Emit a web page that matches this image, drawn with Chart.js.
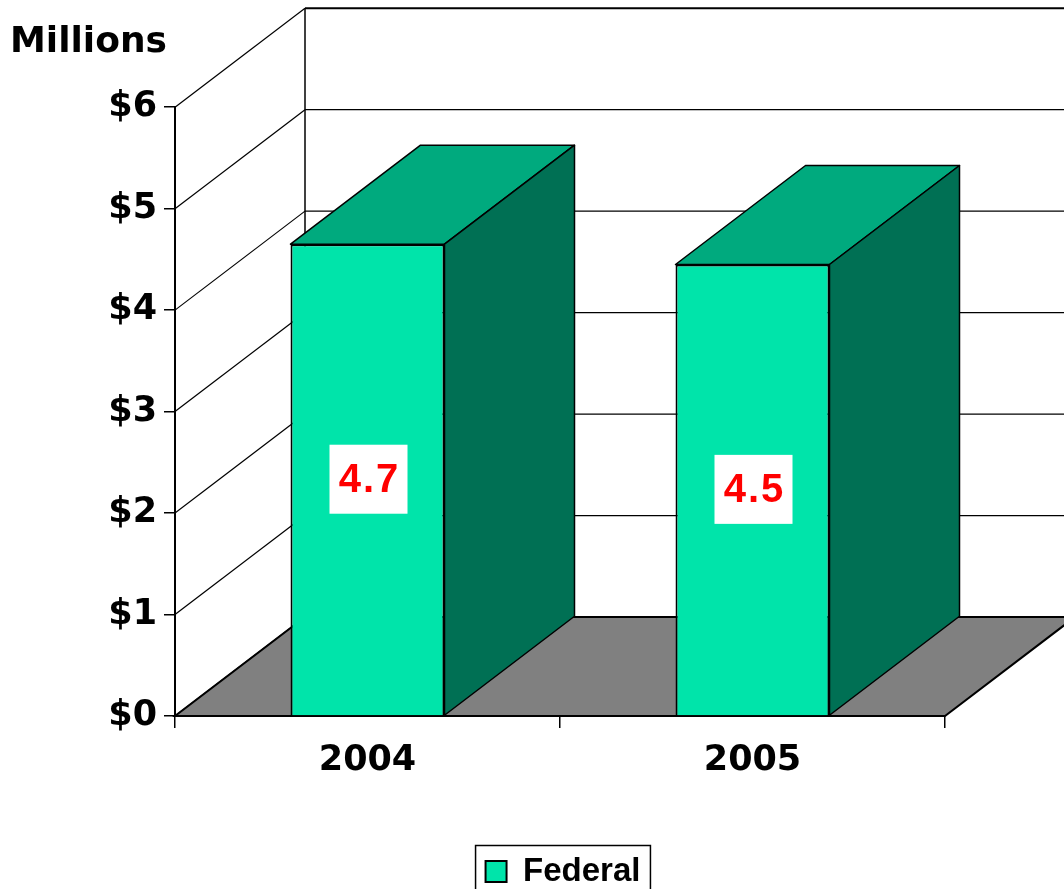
<!DOCTYPE html>
<html lang="en">
<head>
  <meta charset="UTF-8">
  <title>Federal funding</title>
  <script src="https://cdn.jsdelivr.net/npm/chart.js"></script>
  <style>
    html, body { margin: 0; padding: 0; background: #fff; }
    #wrap { width: 1064px; height: 889px; }
  </style>
</head>
<body>
  <div id="wrap"><canvas id="fundChart" width="1064" height="889"></canvas></div>

  <script>
    // data
    const years = ['2004', '2005'];
    const federal = [4.65, 4.45];
    const federalLabels = ['4.7', '4.5'];
    const yTicks = [0, 1, 2, 3, 4, 5, 6];

    // depth of the fake 3d box
    const DX = 130, DY = -99;
    const FRONT = '#00E4AA', TOP = '#00AA7E', SIDE = '#007054';

    const box3d = {
      id: 'box3d',
      afterUpdate(chart) {
        // legend sits under the plot, not under the whole canvas
        const lg = chart.legend, area = chart.chartArea;
        const dx = (area.left + area.right) / 2 + 3 - (lg.left + lg.right) / 2;
        const dy = 9;
        lg.left += dx; lg.right += dx;
        lg.top += dy; lg.bottom += dy;
        lg.legendHitBoxes.forEach(hb => { hb.left += dx; hb.top += dy; });
      },
      beforeDatasetsDraw(chart) {
        const c = chart.ctx, y = chart.scales.y, area = chart.chartArea;
        const x0 = area.left, x1 = area.right;
        const yb = y.getPixelForValue(0), yt = y.getPixelForValue(6);
        c.save();
        // back wall + side wall lines
        yTicks.forEach(v => {
          const yy = y.getPixelForValue(v);
          c.strokeStyle = '#000';
          c.lineWidth = v === 6 ? 2 : 1.3;
          c.beginPath();
          c.moveTo(x0 + DX, yy + DY);
          c.lineTo(x1 + DX, yy + DY);
          c.stroke();
          c.lineWidth = 1.2;
          c.beginPath();
          c.moveTo(x0, yy);
          c.lineTo(x0 + DX, yy + DY);
          c.stroke();
        });
        c.lineWidth = 1.5;
        c.beginPath();
        c.moveTo(x0 + DX, yt + DY);
        c.lineTo(x0 + DX, yb + DY);
        c.stroke();
        // floor
        c.fillStyle = '#808080';
        c.lineWidth = 2;
        c.beginPath();
        c.moveTo(x0, yb);
        c.lineTo(x1, yb);
        c.lineTo(x1 + DX, yb + DY);
        c.lineTo(x0 + DX, yb + DY);
        c.closePath();
        c.fill();
        c.stroke();
        c.restore();
      },
      afterDatasetsDraw(chart) {
        const c = chart.ctx;
        const meta = chart.getDatasetMeta(0);
        c.save();
        c.strokeStyle = '#000';
        c.lineWidth = 1.5;
        c.lineJoin = 'round';
        meta.data.forEach((bar, i) => {
          const l = bar.x - bar.width / 2, r = bar.x + bar.width / 2;
          // top
          c.fillStyle = TOP;
          c.beginPath();
          c.moveTo(l, bar.y);
          c.lineTo(l + DX, bar.y + DY);
          c.lineTo(r + DX, bar.y + DY);
          c.lineTo(r, bar.y);
          c.closePath();
          c.fill();
          c.stroke();
          // side
          c.fillStyle = SIDE;
          c.beginPath();
          c.moveTo(r, bar.y);
          c.lineTo(r + DX, bar.y + DY);
          c.lineTo(r + DX, bar.base + DY);
          c.lineTo(r, bar.base);
          c.closePath();
          c.fill();
          c.stroke();
          // value label
          const cy = (bar.y + bar.base) / 2;
          c.fillStyle = '#fff';
          c.fillRect(bar.x - 38, cy - 35, 78, 69);
          c.fillStyle = '#ff0000';
          c.font = 'bold 40px "Liberation Sans", Arial, sans-serif';
          c.letterSpacing = '2px';
          c.textAlign = 'center';
          c.textBaseline = 'middle';
          c.fillText(federalLabels[i], bar.x + 2, cy + 1);
          c.letterSpacing = '0px';
        });
        c.restore();
      },
      afterDraw(chart) {
        // box round the legend
        const hb = chart.legend.legendHitBoxes[0];
        if (!hb) return;
        const c = chart.ctx;
        const mid = hb.top + hb.height / 2;
        c.save();
        c.strokeStyle = '#000';
        c.lineWidth = 1.5;
        c.strokeRect(hb.left - 10, mid - 26, hb.width + 20, 46);
        c.restore();
      }
    };

    const ctx = document.getElementById('fundChart').getContext('2d');
    const fundChart = new Chart(ctx, {
      type: 'bar',
      data: {
        labels: years,
        datasets: [{
          label: 'Federal',
          data: federal,
          backgroundColor: FRONT,
          borderColor: '#000',
          borderWidth: 2,
          barPercentage: 0.4,
          categoryPercentage: 1.0
        }]
      },
      options: {
        responsive: false,
        animation: false,
        layout: { padding: { left: 10, right: 119, top: 0, bottom: 0 } },
        plugins: {
          title: {
            display: true,
            text: 'Millions',
            align: 'start',
            color: '#000',
            font: { family: 'DejaVu Sans', size: 36, weight: 'bold' },
            padding: { top: 21, bottom: 43 }
          },
          legend: {
            position: 'bottom',
            labels: {
              color: '#000',
              font: { family: 'Liberation Sans', size: 33, weight: 'bold' },
              boxWidth: 21,
              boxHeight: 21,
              padding: 6
            }
          },
          tooltip: { enabled: false }
        },
        scales: {
          y: {
            min: 0,
            max: 6,
            ticks: {
              stepSize: 1,
              padding: 7,
              color: '#000',
              font: { family: 'DejaVu Sans', size: 35, weight: 'bold' },
              callback: v => '$' + v
            },
            grid: { drawOnChartArea: false, tickLength: 11, color: '#000', lineWidth: 1.5 },
            border: { display: true, color: '#000', width: 2 },
            afterFit(scale) { scale.width = 165; }
          },
          x: {
            ticks: {
              padding: 12,
              color: '#000',
              font: { family: 'DejaVu Sans', size: 35, weight: 'bold' }
            },
            grid: { drawOnChartArea: false, tickLength: 12, color: '#000', lineWidth: 1.5, offset: true },
            border: { display: true, color: '#000', width: 2 },
            afterFit(scale) { scale.height = 124; }
          }
        }
      },
      plugins: [box3d]
    });
  </script>
</body>
</html>
